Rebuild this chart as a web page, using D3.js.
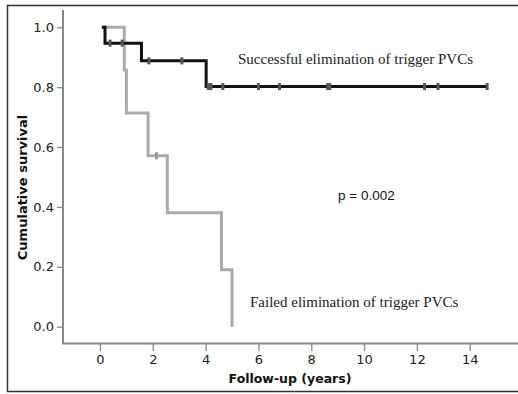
<!DOCTYPE html>
<html>
<head>
<meta charset="utf-8">
<script src="https://cdnjs.cloudflare.com/ajax/libs/d3/7.8.5/d3.min.js"></script>
<style>
  body { margin: 0; background: #fff; }
  svg { display: block; }
</style>
</head>
<body>
<svg id="chart" width="518" height="394"></svg>
<script>
// Kaplan-Meier steps: [time (years), survival]
var successSteps = [[0.07, 1.0], [0.19, 0.947], [1.57, 0.888], [4.02, 0.802], [14.66, 0.802]];
var successCensor = [0.38, 0.84, 1.85, 3.1, 4.1, 4.2, 4.65, 6.0, 6.8, 8.62, 8.7, 12.29, 12.8, 14.66];
var failedSteps = [[0.07, 1.0], [0.92, 0.857], [1.0, 0.714], [1.82, 0.571], [2.55, 0.381], [4.6, 0.19], [5.0, 0.0]];
var failedCensor = [2.14];
var xTicks = [0, 2, 4, 6, 8, 10, 12, 14];
var yTicks = [0, 0.2, 0.4, 0.6, 0.8, 1.0];

var svg = d3.select('#chart');
var x = d3.scaleLinear().domain([0, 14]).range([100, 469.7]);
var y = d3.scaleLinear().domain([0, 1]).range([326.7, 27.3]);
var sans = '"DejaVu Sans", Verdana, sans-serif';

// outer frame (left, top, bottom)
svg.append('path').attr('d', 'M520,5.5H7.5V391.5H520').attr('fill', 'none').attr('stroke', '#333').attr('stroke-width', 1.5);

// axes
var axisCol = '#888';
svg.append('line').attr('x1', 63).attr('x2', 63).attr('y1', 10).attr('y2', 344).attr('stroke', axisCol).attr('stroke-width', 2);
svg.append('line').attr('x1', 62).attr('x2', 518).attr('y1', 343.5).attr('y2', 343.5).attr('stroke', axisCol).attr('stroke-width', 2);

svg.append('g').attr('transform', 'translate(63,0)')
  .call(d3.axisLeft(y).tickValues(yTicks).tickFormat(d3.format('.1f')).tickSize(6).tickPadding(3));
svg.append('g').attr('transform', 'translate(0,344)')
  .call(d3.axisBottom(x).tickValues(xTicks).tickFormat(d3.format('d')).tickSize(7).tickPadding(4));
svg.selectAll('.domain').remove();
svg.selectAll('.tick line').attr('stroke', axisCol).attr('stroke-width', 1.3);
svg.selectAll('.tick text').style('font-family', sans).style('font-size', '13px').style('fill', '#222');

// axis titles
svg.append('text').attr('x', 290).attr('y', 383).attr('text-anchor', 'middle')
  .style('font-family', sans).style('font-size', '12.5px').style('font-weight', 'bold').style('fill', '#111')
  .text('Follow-up (years)');
svg.append('text').attr('transform', 'translate(26.5,187.5) rotate(-90)').attr('text-anchor', 'middle')
  .style('font-family', sans).style('font-size', '13px').style('font-weight', 'bold').style('fill', '#111')
  .text('Cumulative survival');

// step curves
var stepLine = d3.line().x(function(d) { return x(d[0]); }).y(function(d) { return y(d[1]); }).curve(d3.curveStepAfter);

function survAt(steps, t) {
  var s = steps[0][1];
  steps.forEach(function(d) { if (d[0] <= t) s = d[1]; });
  return s;
}

svg.append('path').datum(failedSteps).attr('d', stepLine).attr('fill', 'none')
  .attr('stroke', '#aaa').attr('stroke-width', 3).attr('stroke-linejoin', 'miter');
svg.selectAll('.cf').data(failedCensor).enter().append('rect').attr('class', 'cf')
  .attr('x', function(d) { return x(d) - 1.5; }).attr('y', function(d) { return y(survAt(failedSteps, d)) - 3.5; })
  .attr('width', 3).attr('height', 7).attr('fill', '#999');

svg.append('path').datum(successSteps).attr('d', stepLine).attr('fill', 'none')
  .attr('stroke', '#111').attr('stroke-width', 3).attr('stroke-linejoin', 'miter');
svg.selectAll('.cs').data(successCensor).enter().append('rect').attr('class', 'cs')
  .attr('x', function(d) { return x(d) - 1.5; }).attr('y', function(d) { return y(survAt(successSteps, d)) - 3.5; })
  .attr('width', 3).attr('height', 7).attr('fill', '#555');

// annotations
var serif = '"Liberation Serif", "Times New Roman", serif';
svg.append('text').attr('x', 238).attr('y', 64).style('font-family', serif).style('font-size', '15px').style('fill', '#222')
  .text('Successful elimination of trigger PVCs');
svg.append('text').attr('x', 250).attr('y', 307).style('font-family', serif).style('font-size', '15px').style('fill', '#222')
  .text('Failed elimination of trigger PVCs');
svg.append('text').attr('x', 338).attr('y', 200).style('font-family', '"Liberation Sans", Arial, sans-serif').style('font-size', '13.5px').style('fill', '#111')
  .text('p = 0.002');
</script>
</body>
</html>
